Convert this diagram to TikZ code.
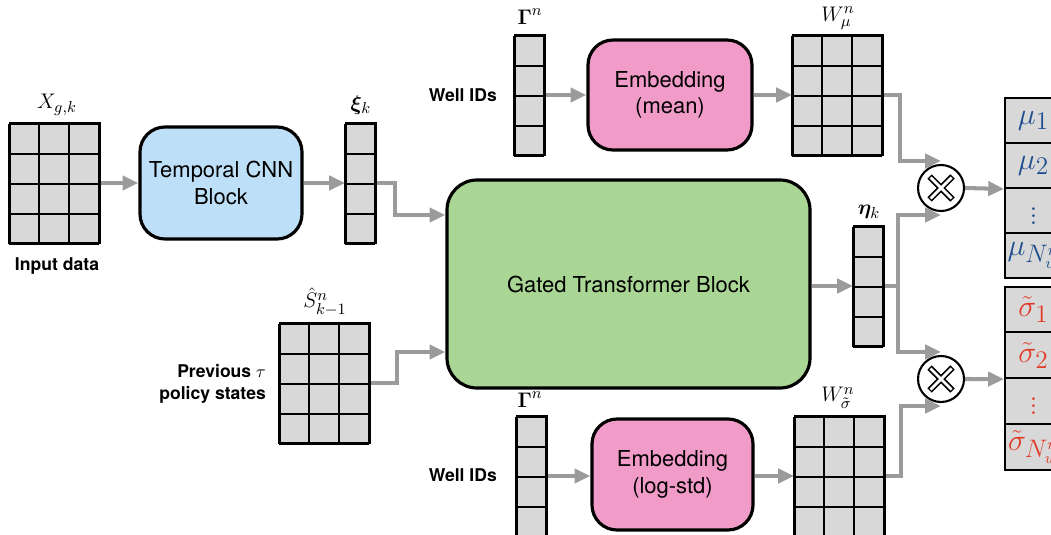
\documentclass[tikz,border=0pt]{standalone}
\usepackage{amsmath}
\usepackage{amssymb}
\usepackage{bm}
\usepackage{fontspec}
\setsansfont{TeX Gyre Heros}
\usepackage{xcolor}
\usepackage{tikz}
\usetikzlibrary{arrows.meta}

\definecolor{cellgray}{HTML}{D8D8D8}
\definecolor{flowgray}{HTML}{9B9B9B}
\definecolor{cnnblue}{HTML}{BEDFF8}
\definecolor{embpink}{HTML}{F19BC8}
\definecolor{gtbgreen}{HTML}{A9D595}
\definecolor{mublue}{HTML}{1F4F8E}
\definecolor{sigred}{HTML}{E23B2A}

\begin{document}
\begin{tikzpicture}[
    cellbox/.style={draw, fill=cellgray, line width=1.1pt, inner sep=0pt},
    gridline/.style={line width=1.1pt},
    block/.style={draw, line width=1.8pt, rounded corners=0.5cm, align=center,
      font=\sffamily\fontsize{12.5}{15}\selectfont},
    flow/.style={draw=flowgray, line width=2.3pt,
      -{Triangle[length=9pt,width=8pt]}},
    tag/.style={font=\sffamily\bfseries\fontsize{10}{12.5}\selectfont, align=right},
    mathlbl/.style={font=\fontsize{13}{15}\selectfont, inner sep=1pt},
    outcell/.style={draw, fill=cellgray, line width=1.1pt, minimum width=1.14cm,
      inner sep=0pt, font=\fontsize{19}{22}\selectfont},
    mult/.style={draw, circle, fill=white, line width=1.2pt, minimum size=0.92cm}
  ]

\useasboundingbox (0,0) rectangle (21.02,-10.68);
\clip (0,0) rectangle (21.02,-10.68);

% input data grid and the temporal CNN
\node[cellbox, minimum width=1.8cm, minimum height=2.4cm] (xin) at (1.1,-3.66) {};
\draw[gridline, shift={(xin.south west)}] (0,0) grid[step=0.6] (1.8,2.4);
\node[mathlbl] (xlbl) at (1.14,-2.1) {$X_{g,k}$};
\node[tag] (indata) at (1.14,-5.32) {Input data};

\node[block, fill=cnnblue, minimum width=3.24cm, minimum height=2.24cm] (cnn) at (4.42,-3.66) {Temporal CNN\\Block};

\node[cellbox, minimum width=0.6cm, minimum height=2.4cm] (xi) at (7.22,-3.66) {};
\draw[gridline, shift={(xi.south west)}] (0,0) grid[step=0.6] (0.6,2.4);
\node[mathlbl] (xilbl) at (7.22,-2.1) {$\bm{\xi}_k$};

% previous states
\node[cellbox, minimum width=1.8cm, minimum height=2.4cm] (shat) at (6.5,-7.66) {};
\draw[gridline, shift={(shat.south west)}] (0,0) grid[step=0.6] (1.8,2.4);
\node[mathlbl] (shatlbl) at (6.5,-6.04) {$\hat{S}^n_{k-1}$};
\node[tag, anchor=east] (prev) at (5.44,-7.68) {Previous $\tau$\\policy states};

% transformer
\node[block, fill=gtbgreen, rounded corners=0.6cm, minimum width=7.26cm, minimum height=4.16cm] (gtb) at (12.57,-5.68) {Gated Transformer Block};

\node[cellbox, minimum width=0.6cm, minimum height=2.4cm] (eta) at (17.38,-5.72) {};
\draw[gridline, shift={(eta.south west)}] (0,0) grid[step=0.6] (0.6,2.4);
\node[mathlbl] (etalbl) at (17.38,-4.24) {$\bm{\eta}_k$};

% mean embedding
\node[cellbox, minimum width=0.6cm, minimum height=2.4cm] (gam1) at (10.6,-1.9) {};
\draw[gridline, shift={(gam1.south west)}] (0,0) grid[step=0.6] (0.6,2.4);
\node[mathlbl] (gam1lbl) at (10.6,-0.34) {$\bm{\Gamma}^n$};
\node[tag, anchor=east] (idsup) at (10.06,-1.9) {Well IDs};

\node[block, fill=embpink, minimum width=3.28cm, minimum height=2.2cm] (embmu) at (13.4,-1.9) {Embedding\\(mean)};

\node[cellbox, minimum width=1.8cm, minimum height=2.4cm] (wmu) at (16.76,-1.9) {};
\draw[gridline, shift={(wmu.south west)}] (0,0) grid[step=0.6] (1.8,2.4);
\node[mathlbl] (wmulbl) at (16.76,-0.36) {$W^n_{\mu}$};

% log-std embedding
\node[cellbox, minimum width=0.6cm, minimum height=2.4cm] (gam2) at (10.64,-9.52) {};
\draw[gridline, shift={(gam2.south west)}] (0,0) grid[step=0.6] (0.6,2.4);
\node[mathlbl] (gam2lbl) at (10.6,-8.0) {$\bm{\Gamma}^n$};
\node[tag, anchor=east] (idsdn) at (10.06,-9.5) {Well IDs};

\node[block, fill=embpink, minimum width=3.22cm, minimum height=2.22cm] (embsig) at (13.45,-9.49) {Embedding\\(log-std)};

\node[cellbox, minimum width=1.8cm, minimum height=2.4cm] (wsig) at (16.8,-9.52) {};
\draw[gridline, shift={(wsig.south west)}] (0,0) grid[step=0.6] (1.8,2.4);
\node[mathlbl] (wsiglbl) at (16.76,-7.96) {$W^n_{\tilde{\sigma}}$};

% products
\node[mult] (om) at (18.82,-3.76) {};
\draw[line width=3.6pt] ([shift={(-0.23,-0.23)}]om.center) -- ([shift={(0.23,0.23)}]om.center)
  ([shift={(-0.23,0.23)}]om.center) -- ([shift={(0.23,-0.23)}]om.center);
\draw[white, line width=1.6pt] ([shift={(-0.21,-0.21)}]om.center) -- ([shift={(0.21,0.21)}]om.center)
  ([shift={(-0.21,0.21)}]om.center) -- ([shift={(0.21,-0.21)}]om.center);

\node[mult] (os) at (18.82,-7.58) {};
\draw[line width=3.6pt] ([shift={(-0.23,-0.23)}]os.center) -- ([shift={(0.23,0.23)}]os.center)
  ([shift={(-0.23,0.23)}]os.center) -- ([shift={(0.23,-0.23)}]os.center);
\draw[white, line width=1.6pt] ([shift={(-0.21,-0.21)}]os.center) -- ([shift={(0.21,0.21)}]os.center)
  ([shift={(-0.21,0.21)}]os.center) -- ([shift={(0.21,-0.21)}]os.center);

% outputs
\node[outcell, minimum height=0.9cm, text=mublue] (mu1) at (20.67,-2.41) {$\mu_1$};
\node[outcell, minimum height=0.9cm, text=mublue] (mu2) at (20.67,-3.31) {$\mu_2$};
\node[outcell, minimum height=0.9cm, text=mublue] (mu3) at (20.67,-4.21) {$\vdots$};
\node[outcell, minimum height=0.9cm, text=mublue] (mu4) at (20.67,-5.11) {$\mu_{N^n_w}$};

\node[outcell, minimum height=0.915cm, text=sigred] (sig1) at (20.67,-6.19) {$\tilde{\sigma}_1$};
\node[outcell, minimum height=0.915cm, text=sigred] (sig2) at (20.67,-7.105) {$\tilde{\sigma}_2$};
\node[outcell, minimum height=0.915cm, text=sigred] (sig3) at (20.67,-8.02) {$\vdots$};
\node[outcell, minimum height=0.915cm, text=sigred] (sig4) at (20.67,-8.935) {$\tilde{\sigma}_{N^n_w}$};

% connectors
\draw[flow] (xin.east) -- (cnn.west);
\draw[flow] (cnn.east) -- (xi.west);
\draw[flow] (xi.east) -- ++(0.36,0) |- ([yshift=1.38cm]gtb.west);
\draw[flow] (shat.east) -- ++(0.52,0) |- ([yshift=-1.36cm]gtb.west);
\draw[flow] (gtb.east |- eta.west) -- (eta.west);

\draw[flow] (gam1.east) -- (embmu.west);
\draw[flow] (embmu.east) -- (wmu.west);
\draw[flow] (gam2.east) -- (gam2.east -| embsig.west);
\draw[flow] (embsig.east |- wsig.west) -- (wsig.west);

\draw[flow] (wmu.east) -- ++(0.32,0) |- ([yshift=0.06cm]om.north);
\draw[flow] (eta.east) -- ++(0.26,0) |- ([yshift=-0.06cm]om.south);
\draw[flow] (eta.east) -- ++(0.26,0) |- ([yshift=0.06cm]os.north);
\draw[flow] (wsig.east) -- ++(0.3,0) |- ([yshift=-0.06cm]os.south);

\draw[flow] (om.east) -- (mu2.south west);
\draw[flow] (os.east) -- (sig2.south west);

\end{tikzpicture}
\end{document}
